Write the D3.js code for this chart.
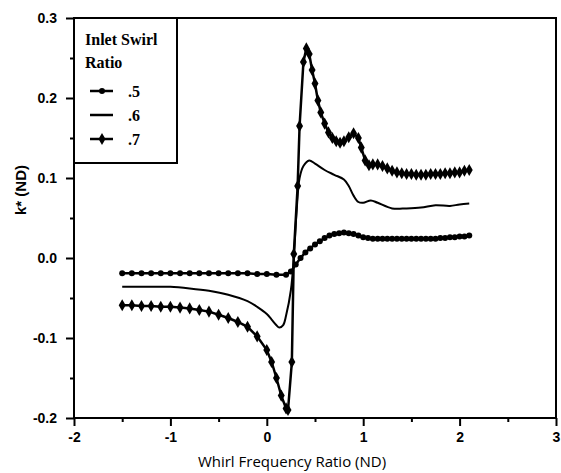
<!DOCTYPE html>
<html lang="en">
<head>
  <meta charset="UTF-8" />
  <title>k* vs Whirl Frequency Ratio</title>
  <script src="https://cdn.jsdelivr.net/npm/d3@7/dist/d3.min.js"></script>
  <style>
    body { margin: 0; background: #fff; }
  </style>
</head>
<body>
<div id="chart"></div>
<script>
// series .5 (small dots)
var x05 = [-1.5,-1.4,-1.3,-1.2,-1.1,-1.0,-0.9,-0.8,-0.7,-0.6,-0.5,-0.4,-0.3,-0.2,-0.1,0.0,0.1,0.2,
  0.25,0.3,0.35,0.4,0.45,0.5,0.55,0.6,0.65,0.7,0.75,0.8,0.85,0.9,0.95,1.0,1.05,1.1,1.15,1.2,1.25,1.3,
  1.35,1.4,1.45,1.5,1.55,1.6,1.65,1.7,1.75,1.8,1.85,1.9,1.95,2.0,2.05,2.1];
var y05 = [-0.019,-0.019,-0.019,-0.019,-0.019,-0.019,-0.019,-0.019,-0.019,-0.019,-0.019,-0.019,-0.019,-0.019,-0.020,-0.020,-0.021,-0.021,
  -0.017,-0.008,0.0,0.007,0.012,0.017,0.021,0.025,0.028,0.030,0.031,0.032,0.031,0.030,0.028,0.026,0.025,0.024,0.024,0.024,0.024,0.024,
  0.024,0.024,0.024,0.024,0.024,0.024,0.024,0.024,0.024,0.025,0.025,0.026,0.026,0.027,0.027,0.028];

// series .6 (plain line)
var x06 = [-1.5,-1.2,-1.0,-0.8,-0.6,-0.4,-0.2,-0.1,0.0,0.05,0.1,0.13,0.17,0.2,0.25,0.28,0.31,0.34,0.38,0.44,
  0.5,0.6,0.7,0.8,0.85,0.9,0.95,1.0,1.08,1.15,1.3,1.45,1.6,1.75,1.9,2.0,2.1];
var y06 = [-0.036,-0.036,-0.036,-0.038,-0.041,-0.046,-0.054,-0.061,-0.070,-0.077,-0.084,-0.087,-0.084,-0.072,-0.040,0.0,0.060,0.100,0.115,0.122,
  0.118,0.110,0.104,0.098,0.090,0.078,0.070,0.069,0.072,0.069,0.062,0.062,0.063,0.066,0.065,0.067,0.068];

// series .7 (diamonds)
var x07 = [-1.5,-1.4,-1.3,-1.2,-1.1,-1.0,-0.9,-0.8,-0.7,-0.6,-0.5,-0.4,-0.3,-0.2,-0.1,0.0,0.05,0.1,0.15,0.2,0.22,
  0.26,0.28,0.32,0.34,0.38,0.41,0.44,0.47,0.5,0.53,0.56,0.6,0.64,0.68,0.72,0.76,0.8,0.85,0.9,0.95,0.98,
  1.02,1.06,1.1,1.15,1.2,1.25,1.3,1.35,1.4,1.45,1.5,1.55,1.6,1.65,1.7,1.75,1.8,1.85,1.9,1.95,2.0,2.05,2.1];
var y07 = [-0.059,-0.059,-0.060,-0.060,-0.061,-0.061,-0.062,-0.063,-0.065,-0.067,-0.071,-0.075,-0.080,-0.086,-0.098,-0.115,-0.130,-0.150,-0.172,-0.188,-0.190,
  -0.130,0.005,0.090,0.165,0.245,0.262,0.255,0.235,0.218,0.197,0.182,0.168,0.157,0.150,0.146,0.144,0.146,0.151,0.156,0.150,0.138,
  0.122,0.116,0.117,0.117,0.115,0.112,0.109,0.107,0.106,0.105,0.105,0.104,0.104,0.104,0.105,0.105,0.105,0.106,0.106,0.107,0.107,0.109,0.110];

var xTicks = [-2,-1,0,1,2,3];
var yTicks = [-0.2,-0.1,0.0,0.1,0.2,0.3];
var legendLabels = [".5",".6",".7"];

var width = 561, height = 473;
var margin = {top: 18, right: 5, bottom: 55, left: 74};

var svg = d3.select("#chart").append("svg")
  .attr("width", width)
  .attr("height", height);

var xScale = d3.scaleLinear().domain([-2,3]).range([margin.left, width - margin.right]);
var yScale = d3.scaleLinear().domain([-0.2,0.3]).range([height - margin.bottom, margin.top]);

// frame
svg.append("rect")
  .attr("x", xScale(-2)).attr("y", yScale(0.3))
  .attr("width", xScale(3) - xScale(-2)).attr("height", yScale(-0.2) - yScale(0.3))
  .attr("fill", "none").attr("stroke", "#000").attr("stroke-width", 2);

// minor ticks
svg.append("g")
  .attr("transform", "translate(0," + yScale(-0.2) + ")")
  .call(d3.axisBottom(xScale).tickValues(d3.range(-1.5, 3, 1)).tickSize(4).tickFormat(""))
  .call(function(g){ g.select(".domain").remove(); g.selectAll("line").attr("stroke-width", 2); });
svg.append("g")
  .attr("transform", "translate(" + xScale(-2) + ",0)")
  .call(d3.axisLeft(yScale).tickValues([-0.15,-0.05,0.05,0.15,0.25]).tickSize(4).tickFormat(""))
  .call(function(g){ g.select(".domain").remove(); g.selectAll("line").attr("stroke-width", 2); });

// major axes
var xAxis = svg.append("g")
  .attr("transform", "translate(0," + yScale(-0.2) + ")")
  .call(d3.axisBottom(xScale).tickValues(xTicks).tickSize(8).tickPadding(6).tickFormat(function(d){ return String(d); }));
xAxis.select(".domain").remove();

var yAxis = svg.append("g")
  .attr("transform", "translate(" + xScale(-2) + ",0)")
  .call(d3.axisLeft(yScale).tickValues(yTicks).tickSize(8).tickPadding(9).tickFormat(function(d){ return d.toFixed(1); }));
yAxis.select(".domain").remove();

svg.selectAll(".tick line").attr("stroke-width", 2);
[xAxis, yAxis].forEach(function(a){
  a.selectAll("text")
    .style("font-family", "'Liberation Sans', Arial, sans-serif")
    .style("font-weight", "bold")
    .style("font-size", "14px")
    .attr("fill", "#000");
});

// axis titles
svg.append("text")
  .attr("x", 292)
  .attr("y", 467)
  .attr("text-anchor", "middle")
  .style("font-family", "'Open Sans', 'DejaVu Sans', sans-serif")
  .style("font-size", "15px")
  .text("Whirl Frequency Ratio (ND)");

svg.append("text")
  .attr("transform", "translate(26," + yScale(0.085) + ") rotate(-90)")
  .attr("text-anchor", "middle")
  .style("font-family", "'Liberation Sans', Arial, sans-serif")
  .style("font-weight", "bold")
  .style("font-size", "15px")
  .text("k* (ND)");

function pts(xs, ys) { return xs.map(function(d,i){ return [d, ys[i]]; }); }
var data05 = pts(x05, y05), data06 = pts(x06, y06), data07 = pts(x07, y07);

var line = d3.line().x(function(d){ return xScale(d[0]); }).y(function(d){ return yScale(d[1]); });
var smooth = d3.line().curve(d3.curveCatmullRom).x(function(d){ return xScale(d[0]); }).y(function(d){ return yScale(d[1]); });

svg.append("path").datum(data05).attr("d", line)
  .attr("fill", "none").attr("stroke", "#000").attr("stroke-width", 2.5);
svg.append("path").datum(data06).attr("d", smooth)
  .attr("fill", "none").attr("stroke", "#000").attr("stroke-width", 2);
svg.append("path").datum(data07).attr("d", line)
  .attr("fill", "none").attr("stroke", "#000").attr("stroke-width", 2.5);

svg.selectAll(".dot05").data(data05).enter().append("circle")
  .attr("class", "dot05")
  .attr("cx", function(d){ return xScale(d[0]); })
  .attr("cy", function(d){ return yScale(d[1]); })
  .attr("r", 3).attr("fill", "#000");

var diamond = d3.symbol().type(d3.symbolDiamond).size(42);
svg.selectAll(".dot07").data(data07).enter().append("path")
  .attr("class", "dot07")
  .attr("transform", function(d){ return "translate(" + xScale(d[0]) + "," + yScale(d[1]) + ")"; })
  .attr("d", diamond).attr("fill", "#000");

// legend
var lg = svg.append("g");
lg.append("rect")
  .attr("x", xScale(-2)).attr("y", yScale(0.3))
  .attr("width", 103).attr("height", 145)
  .attr("fill", "#fff").attr("stroke", "#000").attr("stroke-width", 2);
lg.append("text").attr("x", 85).attr("y", 45).text("Inlet Swirl");
lg.append("text").attr("x", 85).attr("y", 68).text("Ratio");
legendLabels.forEach(function(lab, i){
  var ly = 91 + i * 24;
  lg.append("line").attr("x1", 90).attr("x2", 113).attr("y1", ly).attr("y2", ly)
    .attr("stroke", "#000").attr("stroke-width", 2.5);
  if (i === 0) lg.append("circle").attr("cx", 102).attr("cy", ly).attr("r", 3);
  if (i === 2) lg.append("path").attr("transform", "translate(102," + ly + ")").attr("d", diamond);
  lg.append("text").attr("x", 128).attr("y", ly + 6).text(lab);
});
lg.selectAll("text")
  .style("font-family", "'Liberation Serif', 'Times New Roman', serif")
  .style("font-weight", "bold")
  .style("font-size", "16px");
</script>
</body>
</html>
